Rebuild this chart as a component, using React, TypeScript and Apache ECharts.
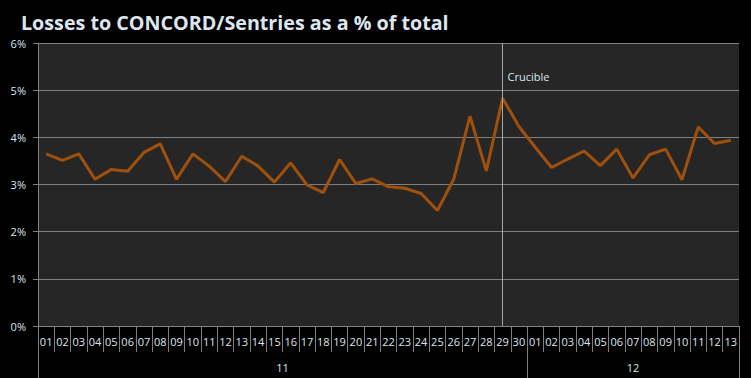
import React, { useEffect, useRef } from "react";
import * as echarts from "echarts";

const TITLE = "Losses to CONCORD/Sentries as a % of total";
const GROUP_11 = "11";
const GROUP_12 = "12";
const days11 = ["01","02","03","04","05","06","07","08","09","10","11","12","13","14","15","16","17","18","19","20","21","22","23","24","25","26","27","28","29","30"];
const days12 = ["01","02","03","04","05","06","07","08","09","10","11","12","13"];
const values11 = [3.65,3.51,3.65,3.11,3.32,3.28,3.68,3.86,3.11,3.65,3.39,3.06,3.60,3.39,3.05,3.46,2.99,2.83,3.53,3.02,3.12,2.95,2.92,2.81,2.45,3.11,4.45,3.29,4.83,4.23];
const values12 = [3.79,3.36,3.54,3.71,3.40,3.75,3.14,3.63,3.75,3.10,4.22,3.87,3.94];
const EVENT_LABEL = "Crucible";
const EVENT_DAY_IN_11 = "29";
const EVENT_LABEL_Y = 5.28;

const TEXT = "#dde6f0";
const GRID = "#7f7f7f";

export default function App() {
  const ref = useRef<HTMLDivElement>(null);
  useEffect(() => {
    if (!ref.current) return;
    const chart = echarts.init(ref.current, null, { renderer: "svg" });
    const categories = [...days11, ...days12];
    const values = [...values11, ...values12];
    const eventIndex = days11.indexOf(EVENT_DAY_IN_11);
    const n = categories.length;
    const split = days11.length;
    chart.setOption({
      animation: false,
      backgroundColor: "#000000",
      title: {
        text: TITLE,
        left: 16,
        top: 7,
        textStyle: { color: TEXT, fontSize: 19.7, fontWeight: "bold", fontFamily: "Open Sans" },
      },
      grid: { left: 38, right: 12, top: 43, bottom: 52, show: true, backgroundColor: "#262626", borderWidth: 0 },
      xAxis: [
        {
          type: "category",
          data: categories,
          boundaryGap: true,
          axisLine: { show: true, lineStyle: { color: GRID, width: 1 } },
          axisTick: { show: true, interval: 0, length: 26, lineStyle: { color: GRID } },
          axisLabel: { interval: 0, color: TEXT, fontSize: 11, fontFamily: "Open Sans", margin: 10 },
          splitLine: { show: false },
        },
        {
          type: "value",
          min: 0,
          max: n,
          position: "bottom",
          offset: 26,
          axisLine: { show: false },
          axisTick: { show: true, customValues: [0, split, n], length: 26, lineStyle: { color: GRID } },
          axisLabel: {
            show: true,
            customValues: [split / 2, split + (n - split) / 2],
            formatter: (v: number) => (v < split ? GROUP_11 : GROUP_12),
            color: TEXT,
            fontSize: 11,
            fontFamily: "Open Sans",
            margin: 10,
          },
          splitLine: { show: false },
        },
      ],
      yAxis: {
        type: "value",
        min: 0,
        max: 6,
        interval: 1,
        axisLine: { show: true, lineStyle: { color: GRID } },
        axisTick: { show: true, length: 5, lineStyle: { color: GRID } },
        axisLabel: { formatter: "{value}%", color: TEXT, fontSize: 11, fontFamily: "Open Sans", margin: 12 },
        splitLine: { show: true, lineStyle: { color: GRID, width: 1 } },
      },
      series: [
        {
          type: "line",
          xAxisIndex: 0,
          data: values,
          symbol: "none",
          lineStyle: { color: "#a0500d", width: 3 },
          markLine: {
            silent: true,
            symbol: "none",
            label: { show: false },
            lineStyle: { color: "#a6a6a6", width: 1, type: "solid" },
            data: [{ xAxis: eventIndex }],
          },
          markPoint: {
            symbol: "circle",
            symbolSize: 0,
            label: {
              show: true,
              position: "right",
              distance: 5,
              formatter: EVENT_LABEL,
              color: TEXT,
              fontSize: 11,
              fontFamily: "Open Sans",
            },
            data: [{ coord: [eventIndex, EVENT_LABEL_Y] }],
          },
        },
      ],
    });
    return () => chart.dispose();
  }, []);
  return (
    <div style={{ position: "absolute", left: 0, top: 0, width: 751, height: 378, background: "#000" }}>
      <div ref={ref} style={{ width: 751, height: 378 }} />
    </div>
  );
}
